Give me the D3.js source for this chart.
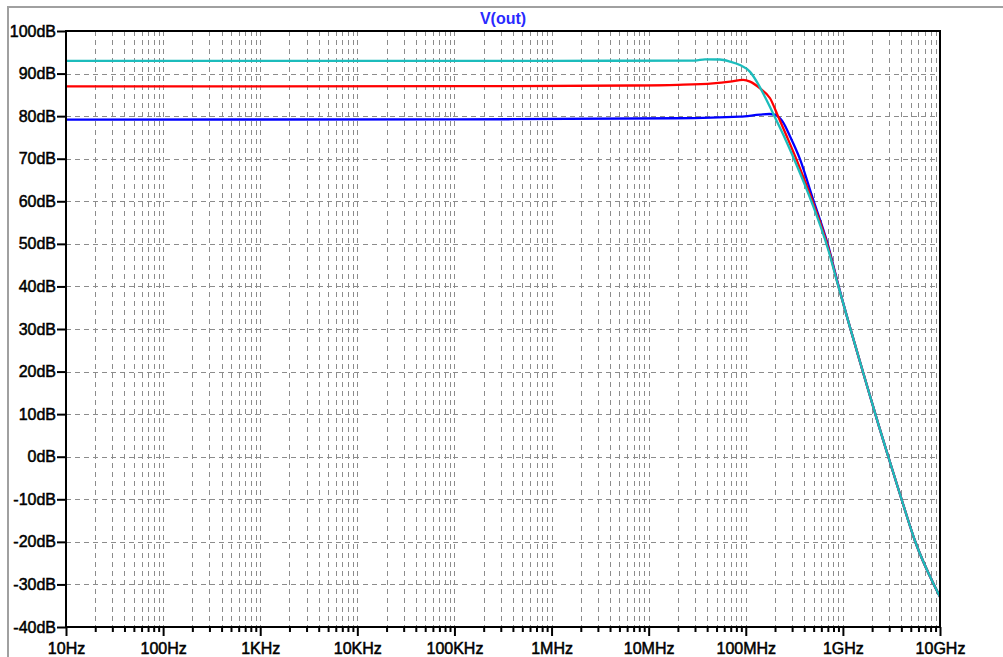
<!DOCTYPE html>
<html><head><meta charset="utf-8">
<script src="https://cdn.jsdelivr.net/npm/d3@7"></script>
<style>
html,body{margin:0;padding:0;background:#fff;}
svg{display:block;}
text{font-family:"Liberation Sans",Arial,sans-serif;}
</style></head>
<body><svg id="c" width="1003" height="657"></svg>
<script>
// ---- data ----
const title = "V(out)";
const xTickValues = [1e1,1e2,1e3,1e4,1e5,1e6,1e7,1e8,1e9,1e10];
const xTickLabels = ["10Hz","100Hz","1KHz","10KHz","100KHz","1MHz","10MHz","100MHz","1GHz","10GHz"];
const yTickValues = [100,90,80,70,60,50,40,30,20,10,0,-10,-20,-30,-40];
const yTickLabels = ["100dB","90dB","80dB","70dB","60dB","50dB","40dB","30dB","20dB","10dB","0dB","-10dB","-20dB","-30dB","-40dB"];
const seriesColors = ["#0000ff","#ff0000","#1cbcbc"];
const blueData = [[10,79.2],[1e5,79.25],[1.9e7,79.5],[8.7e7,79.9],[1.4e8,80.35],[1.75e8,80.5],[2.0e8,80.3],[2.415e8,78.6],[2.85e8,75.3],[3.617e8,69.9],[4.81e8,61.2],[7.03e8,49.7],[8.91e8,40.6],[1.18e9,30.5],[1.61e9,19.9],[2.3e9,7.9],[2.92e9,0.17],[4.07e9,-10.4],[5.53e9,-19.8],[8.67e9,-30.1],[1e10,-32.9]];
const redData = [[10,87.0],[1e5,87.05],[7e6,87.2],[2e7,87.35],[4.6e7,87.7],[6.9e7,88.1],[9.4e7,88.5],[1.107e8,88.1],[1.403e8,86.5],[1.778e8,84.2],[2.148e8,80.0],[2.66e8,75.1],[3.37e8,69.5],[4.81e8,60.3],[7.03e8,49.3],[8.91e8,40.4],[1.18e9,30.5],[1.61e9,19.9],[2.3e9,7.9],[2.92e9,0.17],[4.07e9,-10.4],[5.53e9,-19.8],[8.67e9,-30.1],[1e10,-32.9]];
const cyanData = [[10,93.0],[1e6,93.0],[3.0e7,93.05],[3.8e7,93.35],[5.4e7,93.3],[6.9e7,92.8],[8.7e7,92.0],[1.107e8,90.4],[1.306e8,88.0],[1.578e8,84.5],[1.906e8,80.7],[2.415e8,75.8],[3.37e8,68.3],[4.81e8,59.6],[7.03e8,48.8],[8.91e8,40.3],[1.18e9,30.5],[1.61e9,19.9],[2.3e9,7.9],[2.92e9,0.17],[4.07e9,-10.4],[5.53e9,-19.8],[8.67e9,-30.1],[1e10,-32.9]];
const allSeries = [blueData, redData, cyanData];

// ---- layout ----
const L = 66, R = 940, T = 31, B = 627;
const svg = d3.select("#c");
const x = d3.scaleLog().domain([1e1,1e10]).range([L,R]);
const y = d3.scaleLinear().domain([-40,100]).range([B,T]);

// window border
svg.append("line").attr("x1",8).attr("x2",1003).attr("y1",7).attr("y2",7).attr("stroke","#a0a0a0").attr("stroke-width",2);
svg.append("line").attr("x1",8).attr("x2",8).attr("y1",6).attr("y2",657).attr("stroke","#a0a0a0").attr("stroke-width",2);

// minor values
const minor = [];
for (let e=1;e<10;e++) for (let m=2;m<=9;m++) minor.push(m*Math.pow(10,e));
const vGrid = minor.concat(xTickValues.slice(1,-1));

// grid
const g = svg.append("g");
g.selectAll("line.v").data(vGrid).join("line")
  .attr("x1",d=>Math.round(x(d))+0.5).attr("x2",d=>Math.round(x(d))+0.5)
  .attr("y1",T).attr("y2",B)
  .attr("stroke","#8c8c8c").attr("stroke-width",1).attr("stroke-dasharray","5,4");
g.selectAll("line.h").data(yTickValues.slice(1,-1)).join("line")
  .attr("x1",L).attr("x2",R)
  .attr("y1",d=>Math.round(y(d))+0.5).attr("y2",d=>Math.round(y(d))+0.5)
  .attr("stroke","#8c8c8c").attr("stroke-width",1).attr("stroke-dasharray","5,4");

// curves
const line = d3.line().x(d=>x(d[0])).y(d=>y(d[1])).curve(d3.curveMonotoneX);
svg.append("g").selectAll("path").data(allSeries).join("path")
  .attr("d",line).attr("fill","none")
  .attr("stroke",(d,i)=>seriesColors[i]).attr("stroke-width",2.3)
  .attr("stroke-linejoin","round");

// frame
svg.append("rect").attr("x",L).attr("y",T).attr("width",R-L).attr("height",B-T)
  .attr("fill","none").attr("stroke","#000").attr("stroke-width",2);

// axes
const xMinorAxis = d3.axisBottom(x).tickValues(minor).tickFormat("").tickSize(5).tickSizeOuter(0);
const xAxis = d3.axisBottom(x).tickValues(xTickValues).tickFormat((d,i)=>xTickLabels[i]).tickSize(9).tickPadding(4).tickSizeOuter(0);
const ax1 = svg.append("g").attr("transform",`translate(0,${B})`).call(xMinorAxis);
const ax2 = svg.append("g").attr("transform",`translate(0,${B})`).call(xAxis);
const yAxis = d3.axisLeft(y).tickValues(yTickValues).tickFormat((d,i)=>yTickLabels[i]).tickSize(9).tickPadding(1).tickSizeOuter(0);
const ay = svg.append("g").attr("transform",`translate(${L},0)`).call(yAxis);
[ax1,ax2,ay].forEach(a=>{
  a.select(".domain").remove();
  a.selectAll(".tick line").attr("stroke","#000").attr("stroke-width",2);
  a.selectAll("text").attr("font-family","'Liberation Sans',Arial,sans-serif").attr("font-size",16)
    .attr("fill","#000").attr("stroke","#000").attr("stroke-width",0.5);
});
ax2.selectAll("text").attr("dy","0.85em");

// title
svg.append("text").attr("x",(L+R)/2).attr("y",24).attr("text-anchor","middle")
  .attr("font-size",16).attr("font-weight","bold").attr("fill","#2a2aff").text(title);
</script></body></html>
